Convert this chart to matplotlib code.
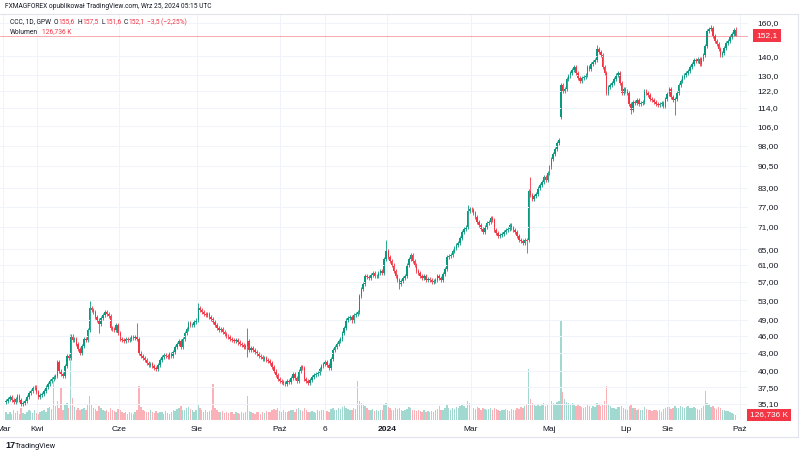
import matplotlib
matplotlib.use('Agg')
from matplotlib import pyplot as plt
from matplotlib.transforms import blended_transform_factory
from matplotlib import font_manager

plt.rcParams['font.family'] = ['Liberation Sans', 'DejaVu Sans']
names = {f.name for f in font_manager.fontManager.ttflist}
HEAD_FONT = ['Liberation Sans Narrow', 'Liberation Sans'] if 'Liberation Sans Narrow' in names else ['Roboto', 'Liberation Sans']

# daily closes, CCC (GPW), mid-March 2023 -> 24 Sep 2024
close = [
    35.5, 35.8, 36.0, 35.6, 35.3, 35.7, 36.2, 35.6, 35.0, 35.2, 35.5, 36.1, 36.6, 37.0, 37.4, 37.5, 36.8, 36.0, 36.3, 36.5,
    37.0, 37.5, 38.0, 38.5, 38.7, 39.0, 39.2, 41.5, 40.0, 39.5, 39.2, 40.8, 42.5, 42.2, 46.0, 45.2, 45.5, 44.5, 43.6, 43.0,
    44.2, 45.5, 45.2, 47.0, 51.3, 51.0, 50.5, 49.6, 49.0, 48.2, 49.4, 50.0, 50.5, 50.2, 49.8, 47.5, 47.2, 47.0, 48.0, 46.6,
    45.5, 45.2, 45.0, 45.5, 45.3, 45.5, 45.8, 45.6, 45.8, 45.5, 43.0, 42.5, 42.2, 41.8, 41.3, 41.0, 41.2, 40.8, 40.5, 40.3,
    41.0, 41.8, 42.3, 42.7, 42.5, 42.3, 42.8, 42.5, 43.2, 44.0, 44.6, 45.0, 44.0, 45.5, 46.5, 47.2, 48.5, 48.0, 48.0, 48.6,
    49.0, 51.5, 51.0, 50.5, 50.2, 50.0, 50.2, 49.6, 49.2, 48.6, 48.0, 47.4, 47.0, 47.2, 46.8, 46.4, 46.0, 45.8, 45.5, 45.2,
    45.0, 45.3, 44.8, 44.5, 44.3, 44.0, 44.2, 45.0, 43.5, 43.8, 43.5, 43.2, 42.8, 42.5, 42.3, 42.0, 42.2, 41.8, 41.6, 41.3,
    40.6, 40.0, 39.4, 38.8, 38.5, 38.3, 38.1, 38.0, 38.4, 38.3, 38.9, 39.5, 38.9, 38.5, 40.0, 40.6, 40.5, 38.8, 38.5, 38.2,
    38.6, 39.0, 39.3, 39.5, 39.7, 40.3, 40.8, 41.2, 41.5, 41.0, 40.5, 42.0, 43.5, 44.0, 44.5, 45.0, 45.5, 46.5, 47.5, 49.0,
    49.3, 49.5, 48.8, 50.0, 50.2, 50.5, 54.0, 55.5, 56.5, 58.5, 58.2, 58.0, 58.6, 59.0, 58.3, 58.5, 59.2, 59.5, 59.0, 62.5,
    64.5, 63.0, 62.0, 61.0, 59.5, 58.5, 57.5, 56.5, 57.2, 58.0, 58.5, 61.0, 62.5, 63.5, 62.0, 61.0, 59.5, 59.0, 58.5, 58.0,
    58.4, 57.5, 57.8, 57.5, 57.0, 57.3, 57.5, 58.5, 58.0, 57.5, 58.8, 60.0, 63.0, 63.2, 63.5, 64.5, 65.2, 66.0, 66.5, 68.0,
    69.5, 70.5, 71.0, 75.5, 76.3, 76.0, 75.0, 74.0, 72.5, 71.5, 70.5, 69.5, 71.0, 72.0, 72.5, 73.5, 73.0, 70.0, 69.2, 68.5,
    68.8, 69.0, 69.5, 70.0, 70.5, 71.5, 70.8, 70.0, 69.5, 68.5, 67.5, 67.0, 66.5, 67.5, 67.0, 82.0, 80.5, 79.5, 80.3, 81.0,
    83.0, 84.0, 85.0, 86.5, 85.5, 88.0, 90.0, 93.0, 95.0, 97.0, 99.0, 100.5, 125.0, 122.0, 123.0, 128.0, 129.5, 131.0, 132.5, 134.0,
    131.0, 128.5, 127.0, 128.5, 129.0, 130.0, 134.0, 133.0, 136.0, 137.0, 138.0, 144.0, 142.5, 141.0, 134.0, 131.0, 121.0, 124.0, 125.0, 126.0,
    128.0, 130.0, 131.0, 126.0, 121.0, 123.0, 122.0, 121.0, 116.0, 113.0, 117.0, 116.5, 117.5, 116.0, 116.5, 117.0, 122.0, 121.0, 120.0, 118.0,
    117.5, 117.0, 116.0, 115.5, 116.0, 116.5, 115.0, 118.0, 120.5, 123.0, 119.0, 117.5, 118.0, 121.0, 125.0, 127.0, 129.0, 130.0, 131.0, 132.0,
    134.0, 136.0, 138.0, 137.5, 138.5, 136.0, 138.5, 141.0, 146.0, 155.0, 156.0, 157.0, 152.0, 149.0, 147.0, 144.0, 141.0, 142.0, 145.0, 148.0,
    149.0, 151.0, 153.0, 155.6, 152.1,
]

# opens that gapped away from the previous close
gap_open = {0: 35.3, 275: 67.5, 292: 110.0}
# long wicks
wick_high = {44: 52.8, 69: 48.4, 101: 52.5, 127: 47.5, 200: 67.5, 243: 77.5,
             276: 86.5, 311: 146.5, 371: 159.0, 384: 157.5}
wick_low = {49: 46.5, 127: 42.3, 207: 55.5, 274: 63.9, 329: 111.5,
            352: 110.8, 384: 151.6}

# volume, thousands of shares
volume_k = [
    210, 160, 190, 140, 260, 180, 230, 150, 300, 170, 140, 200, 260, 220, 180, 240, 170, 150, 190, 220,
    260, 210, 300, 330, 280, 975, 350, 480, 290, 800, 260, 380, 420, 310, 2150, 540, 330, 260, 300, 240,
    280, 300, 260, 380, 600, 400, 310, 270, 230, 350, 290, 250, 220, 260, 210, 300, 250, 230, 200, 280,
    240, 200, 170, 190, 160, 210, 180, 150, 200, 260, 850, 320, 260, 230, 210, 190, 240, 200, 180, 220,
    170, 210, 190, 160, 230, 180, 150, 200, 250, 220, 280, 300, 350, 240, 260, 300, 330, 280, 240, 210,
    260, 380, 300, 240, 210, 250, 200, 230, 260, 900, 300, 240, 210, 190, 230, 180, 200, 170, 210, 190,
    160, 200, 180, 150, 210, 170, 190, 600, 230, 200, 180, 160, 210, 190, 150, 200, 170, 230, 190, 210,
    240, 280, 260, 300, 230, 210, 250, 200, 190, 220, 260, 240, 200, 280, 300, 260, 220, 300, 250, 210,
    190, 230, 210, 180, 250, 220, 260, 240, 210, 230, 190, 280, 310, 260, 240, 290, 270, 320, 360, 300,
    280, 260, 240, 300, 270, 975, 480, 420, 390, 360, 300, 260, 240, 280, 230, 250, 220, 260, 240, 380,
    420, 330, 290, 260, 240, 300, 270, 310, 260, 230, 250, 280, 320, 300, 260, 240, 220, 250, 230, 210,
    240, 200, 220, 190, 230, 210, 250, 280, 350, 240, 260, 300, 380, 290, 260, 310, 280, 330, 300, 360,
    380, 340, 300, 480, 420, 360, 300, 280, 330, 290, 260, 300, 280, 250, 270, 300, 260, 310, 280, 250,
    230, 260, 240, 280, 250, 230, 270, 240, 260, 300, 280, 320, 290, 340, 380, 1275, 520, 430, 380, 360,
    400, 350, 380, 420, 360, 390, 440, 470, 420, 400, 450, 480, 2500, 700, 520, 460, 430, 390, 420, 380,
    360, 400, 340, 320, 300, 330, 380, 350, 310, 340, 320, 420, 380, 360, 400, 480, 850, 380, 340, 310,
    300, 280, 320, 330, 360, 300, 280, 260, 340, 380, 310, 290, 260, 280, 250, 240, 330, 280, 260, 240,
    230, 260, 250, 220, 240, 210, 270, 300, 330, 320, 280, 310, 360, 290, 300, 340, 320, 300, 330, 350,
    310, 290, 330, 300, 280, 260, 300, 340, 725, 420, 380, 330, 360, 300, 280, 320, 290, 260, 240, 230,
    220, 200, 180, 160, 127,
]

ytick_vals = [35.1, 37.5, 40, 43, 46, 49, 53, 57, 61, 65, 71, 77, 83, 90.5, 98,
              106, 114, 122, 130, 140, 160]
ytick_labels = ['35,10', '37,50', '40,00', '43,00', '46,00', '49,00', '53,00', '57,00',
                '61,00', '65,00', '71,00', '77,00', '83,00', '90,50', '98,00',
                '106,0', '114,0', '122,0', '130,0', '140,0', '160,0']
xtick_pos = [-1.5, 16.3, 59.5, 100.5, 144.2, 167.9, 200.5, 244.7, 285.8, 326.3, 348.4, 386.3]
xtick_labels = ['Mar', 'Kwi', 'Cze', 'Sie', 'Paź', '6', '2024', 'Mar', 'Maj', 'Lip', 'Sie', 'Paź']

GREEN = '#089981'
RED = '#f23645'
TXT = '#131722'

n = len(close)
opens = []
for i in range(n):
    opens.append(gap_open.get(i, close[i - 1] if i > 0 else close[0]))
highs = [wick_high.get(i, max(opens[i], close[i]) * 1.008) for i in range(n)]
lows = [wick_low.get(i, min(opens[i], close[i]) * 0.992) for i in range(n)]
up = [close[i] >= opens[i] for i in range(n)]
cols = [GREEN if u else RED for u in up]
idx = list(range(n))

fig = plt.figure(figsize=(8, 4.54), dpi=100)
W, H = 800, 454
ax = fig.add_axes([0, (H - 420) / H, 748 / W, (420 - 14) / H])
axv = ax.twinx()

# volume underneath
axv.bar(idx, volume_k, width=0.75, color=cols, alpha=0.38, linewidth=0)
axv.set_ylim(0, max(volume_k) * 4.05)
axv.set_yticks([])
ax.set_zorder(axv.get_zorder() + 1)
ax.patch.set_visible(False)

# candles
ax.vlines(idx, lows, highs, colors=cols, linewidth=0.6)
heights = [max(abs(close[i] - opens[i]), close[i] * 0.002) for i in range(n)]
bottoms = [min(close[i], opens[i]) for i in range(n)]
ax.bar(idx, heights, bottom=bottoms, width=0.8, color=cols, linewidth=0)

ax.set_yscale('log')
ax.set_ylim(32.9, 165.8)
ax.set_xlim(-3.16, 390.5)
ax.yaxis.tick_right()
ax.set_yticks(ytick_vals)
ax.set_yticklabels(ytick_labels)
ax.yaxis.set_minor_locator(matplotlib.ticker.NullLocator())
ax.set_xticks(xtick_pos)
ax.set_xticklabels(xtick_labels)
ax.tick_params(axis='y', length=0, pad=7, labelsize=6, labelcolor=TXT)
ax.tick_params(axis='x', length=0, pad=4, labelsize=6, labelcolor=TXT)
for lab in ax.get_xticklabels():
    if lab.get_text() == '2024':
        lab.set_fontweight('bold')
ax.grid(True, color='#f0f3fa', linewidth=0.7)
for sp in list(ax.spines.values()) + list(axv.spines.values()):
    sp.set_visible(False)

# last price line and labels
ax.axhline(close[-1], color=RED, linewidth=0.5, alpha=0.6)
tr = blended_transform_factory(ax.transAxes, ax.transData)
ax.text(1.0 + 19 / 748, close[-1], '152,1', transform=tr, ha='center', va='center',
        fontsize=6, color='white', clip_on=False,
        bbox=dict(boxstyle='square,pad=0.35', fc=RED, ec='none'))
fig.text(769 / W, 1 - 415 / H, '126,736 K', ha='center', va='center', fontsize=6,
         color='white', bbox=dict(boxstyle='square,pad=0.35', fc=RED, ec='none'))

# frame
fig.add_artist(plt.Line2D([0, 798 / W], [1 - 14 / H] * 2, color='#e0e3eb', lw=0.8))
fig.add_artist(plt.Line2D([0, 798 / W], [1 - 437 / H] * 2, color='#e0e3eb', lw=0.8))
fig.add_artist(plt.Line2D([798 / W] * 2, [1 - 14 / H, 1 - 437 / H], color='#e0e3eb', lw=0.8))

renderer = fig.canvas.get_renderer()


def fit_text(x, y, s, width, **kw):
    t = fig.text(x / W, 1 - y / H, s, ha='left', va='center', fontsize=7, **kw)
    w = t.get_window_extent(renderer=renderer).width
    t.set_fontsize(7 * width / w)
    return t


def put_row(x, y, parts, size):
    for s, col, gap in parts:
        t = fig.text(x / W, 1 - y / H, s, ha='left', va='center', fontsize=size, color=col,
                     family=HEAD_FONT)
        x += t.get_window_extent(renderer=renderer).width + gap


head = fit_text(5, 7, 'FXMAGFOREX opublikował TradingView.com, Wrz 25, 2024 05:15 UTC', 207,
                color=TXT, family=HEAD_FONT)
hs = head.get_fontsize()
put_row(10, 22, [('CCC, 1D, GPW', TXT, 3), ('O', TXT, 0.3), ('155,6', RED, 2.5),
                 ('H', TXT, 0.3), ('157,5', RED, 2.5), ('L', TXT, 0.3), ('151,6', RED, 2.5),
                 ('C', TXT, 0.3), ('152,1', RED, 2.5), ('\u22123,5 (\u22122,25%)', RED, 0)], hs)
put_row(10, 32, [('Wolumen', TXT, 4), ('126,736 K', RED, 0)], hs)

fig.text(5 / W, 1 - 446 / H, '17', ha='left', va='center', fontsize=6.5, fontweight='bold', color=TXT)
fit_text(15, 446, 'TradingView', 41, color=TXT, family=HEAD_FONT)

fig.savefig('out.png', dpi=100, facecolor='white')
